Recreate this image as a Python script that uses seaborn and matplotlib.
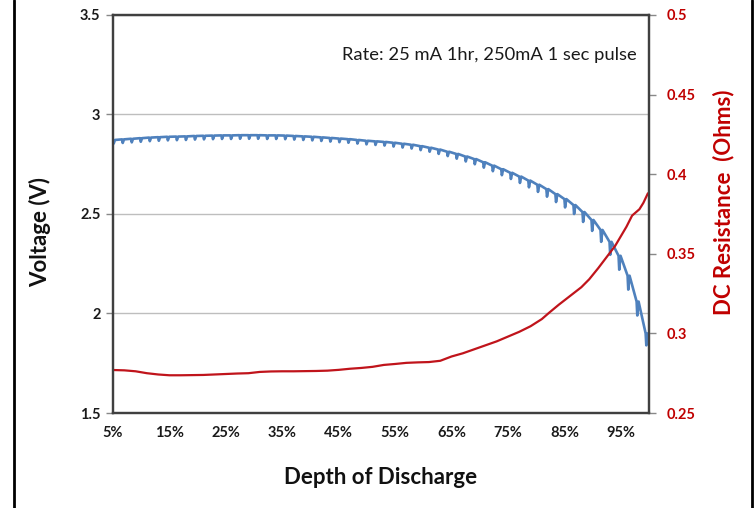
"""
Battery pulse discharge chart: voltage and DC resistance vs depth of discharge.
"""

# =============== IMPORT LIBRARIES ===============
import pandas as pd
import matplotlib
matplotlib.use("Agg")
import matplotlib.pyplot as plt
import seaborn as sns
from matplotlib.lines import Line2D
from matplotlib.ticker import FixedLocator, FuncFormatter

# =============== DATA ===============
# depth of discharge (%) at each 1 hr step, where the 1 sec pulse happens
dod = [5.0, 6.6, 8.2, 9.8, 11.4, 13.0, 14.6, 16.2, 17.8, 19.4,
       21.0, 22.6, 24.2, 25.8, 27.4, 29.0, 30.6, 32.2, 33.8, 35.4,
       37.0, 38.6, 40.2, 41.8, 43.4, 45.0, 46.6, 48.2, 49.8, 51.4,
       53.0, 54.6, 56.2, 57.8, 59.4, 61.0, 62.6, 64.2, 65.8, 67.4,
       69.0, 70.6, 72.2, 73.8, 75.4, 77.0, 78.6, 80.2, 81.8, 83.4,
       85.0, 86.6, 88.2, 89.8, 91.4, 93.0, 94.6, 96.2, 97.8, 99.4, 99.8]

# resting voltage (V) at each step
voltage = [2.872, 2.875, 2.878, 2.881, 2.884, 2.886, 2.888, 2.889, 2.890, 2.892,
           2.893, 2.894, 2.895, 2.895, 2.896, 2.896, 2.896, 2.895, 2.895, 2.894,
           2.892, 2.890, 2.888, 2.885, 2.882, 2.879, 2.876, 2.872, 2.868, 2.865,
           2.862, 2.858, 2.853, 2.848, 2.841, 2.833, 2.824, 2.813, 2.802, 2.789,
           2.776, 2.760, 2.743, 2.725, 2.707, 2.688, 2.668, 2.647, 2.625, 2.600,
           2.575, 2.545, 2.510, 2.470, 2.420, 2.360, 2.290, 2.190, 2.060, 1.900, 1.860]

# voltage drop (V) during the 250 mA pulse
pulse_drop = [0.018, 0.018, 0.018, 0.018, 0.018, 0.018, 0.018, 0.018, 0.018, 0.018,
              0.018, 0.018, 0.018, 0.018, 0.018, 0.018, 0.018, 0.018, 0.018, 0.018,
              0.018, 0.018, 0.018, 0.018, 0.018, 0.018, 0.018, 0.018, 0.018, 0.018,
              0.018, 0.019, 0.019, 0.019, 0.020, 0.020, 0.022, 0.022, 0.024, 0.025,
              0.026, 0.027, 0.028, 0.030, 0.031, 0.032, 0.034, 0.036, 0.038, 0.040,
              0.042, 0.045, 0.050, 0.055, 0.060, 0.065, 0.070, 0.070, 0.070, 0.060, 0.0]

# DC resistance (Ohms)
dod_r = [5, 7, 9, 11, 13, 15, 17, 19, 21, 23, 25, 27, 29, 31, 33, 35, 37, 39, 41, 43,
         45, 47, 49, 51, 53, 55, 57, 59, 61, 63, 65, 67, 69, 71, 73, 75, 77, 79, 81,
         82.3, 84, 86, 88, 89.4, 91, 92.5, 94, 95, 96, 97, 98.3, 99, 99.8]
resistance = [0.2770, 0.2768, 0.2762, 0.2750, 0.2742, 0.2737, 0.2737, 0.2738, 0.2739, 0.2742,
              0.2745, 0.2748, 0.2750, 0.2758, 0.2761, 0.2762, 0.2762, 0.2763, 0.2764, 0.2766,
              0.2771, 0.2778, 0.2783, 0.2790, 0.2802, 0.2808, 0.2815, 0.2818, 0.2820, 0.2828,
              0.2855, 0.2875, 0.2900, 0.2925, 0.2950, 0.2980, 0.3010, 0.3045, 0.3090,
              0.3130, 0.3180, 0.3235, 0.3290, 0.3340, 0.3410, 0.3480, 0.3550, 0.3610, 0.3670,
              0.3740, 0.3780, 0.3820, 0.3880]

x_ticks = [5, 15, 25, 35, 45, 55, 65, 75, 85, 95]

BLUE = "#4F81BD"
RED = "#C0141B"
LABEL_RED = "#C00000"
SPINE = "#404040"

# =============== BUILD PULSE TRACE ===============
pulse_x, pulse_v = [], []
for x, v, d in zip(dod, voltage, pulse_drop):
    pulse_x += [x, x + 0.12, x + 0.35]
    pulse_v += [v, v - d, v]
df_v = pd.DataFrame({"dod": pulse_x, "volt": pulse_v})
df_r = pd.DataFrame({"dod": dod_r, "res": resistance})

# =============== PLOT ===============
sns.set_theme(style="white")
plt.rcParams["font.family"] = ["Lato", "DejaVu Sans"]

fig = plt.figure(figsize=(7.56, 5.08), dpi=100)
ax = fig.add_axes([0.1495, 0.187, 0.709, 0.7835])
ax2 = ax.twinx()

sns.lineplot(data=df_v, x="dod", y="volt", ax=ax, color=BLUE, linewidth=1.9,
             estimator=None, sort=False, zorder=3)
sns.lineplot(data=df_r, x="dod", y="res", ax=ax2, color=RED, linewidth=1.6,
             estimator=None, sort=False)

ax.set_xlim(5, 100)
ax.set_ylim(1.5, 3.5)
ax2.set_ylim(0.25, 0.5)
ax.set_yticks([1.5, 2, 2.5, 3, 3.5])
ax2.set_yticks([0.25, 0.3, 0.35, 0.4, 0.45, 0.5])
ax.xaxis.set_major_locator(FixedLocator(x_ticks))
ax.xaxis.set_major_formatter(FuncFormatter(lambda v, p: f"{v:.0f}%"))
ax.yaxis.set_major_formatter(FuncFormatter(lambda v, p: f"{v:g}"))
ax2.yaxis.set_major_formatter(FuncFormatter(lambda v, p: f"{v:g}"))

ax.grid(axis="y", color="#BEBEBE", linewidth=1.0)
ax.grid(axis="x", visible=False)
ax2.grid(False)

for a in (ax, ax2):
    for s in a.spines.values():
        s.set_color(SPINE)
        s.set_linewidth(1.6)

ax.tick_params(axis="both", which="major", direction="out", length=5, width=1,
               color="#888888", labelsize=10.5, pad=4)
ax2.tick_params(axis="y", direction="out", length=5, width=1, color="#888888",
                labelsize=10.5, labelcolor=LABEL_RED, pad=8)
for lab in ax.get_xticklabels() + ax.get_yticklabels():
    lab.set_fontweight("bold")
    lab.set_color("#1a1a1a")
for lab in ax2.get_yticklabels():
    lab.set_fontweight("bold")

ax.set_xlabel("Depth of Discharge", fontsize=16, fontweight="bold", color="#111111")
ax.set_ylabel("Voltage (V)", fontsize=16, fontweight="bold", color="#111111")
ax2.set_ylabel("DC Resistance  (Ohms)", fontsize=16, fontweight="bold", color=LABEL_RED)
ax.xaxis.set_label_coords(0.5, -0.135)
ax.yaxis.set_label_coords(-0.115, 0.455)
ax2.yaxis.set_label_coords(1.118, 0.53)

ax.text(0.9776, 0.8995, "Rate: 25 mA 1hr, 250mA 1 sec pulse", transform=ax.transAxes,
        ha="right", va="center", fontsize=13.2, color="#1a1a1a")

# outer frame lines of the original chart area
fig.add_artist(Line2D([0.018, 0.018], [0, 1], transform=fig.transFigure, color="black", linewidth=2))
fig.add_artist(Line2D([0.995, 0.995], [0, 1], transform=fig.transFigure, color="black", linewidth=2))

fig.savefig("out.png", dpi=100, facecolor="white")
